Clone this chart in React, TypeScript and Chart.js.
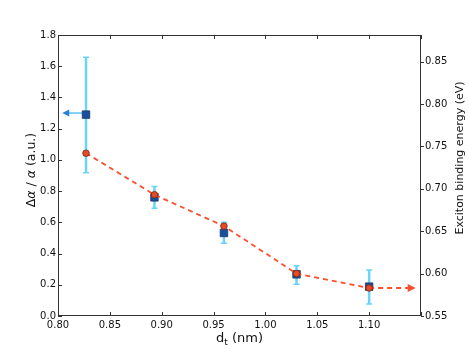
import React, { useEffect, useRef } from "react";
import { Chart, registerables } from "chart.js";

Chart.register(...registerables);

// ---- data ----
const diameters = [0.827, 0.893, 0.96, 1.03, 1.1];
const ratio = [1.29, 0.76, 0.532, 0.267, 0.188];
const ratioErrLow = [0.918, 0.69, 0.466, 0.203, 0.077];
const ratioErrHigh = [1.657, 0.829, 0.6, 0.322, 0.295];
const energy = [0.742, 0.693, 0.656, 0.6, 0.583];

const xTicks = [0.8, 0.85, 0.9, 0.95, 1.0, 1.05, 1.1, 1.15];
const xLabelMax = 1.1;
const leftTicks = [0, 0.2, 0.4, 0.6, 0.8, 1.0, 1.2, 1.4, 1.6, 1.8];
const rightTicks = [0.55, 0.6, 0.65, 0.7, 0.75, 0.8, 0.85];

const blueArrowX = [0.827, 0.806];
const blueArrowY = [1.3, 1.3];
const redArrowX = [1.1, 1.142];
const redArrowY = [0.583, 0.583];

const RED = "rgb(250,78,45)";
const ERR = "rgb(105,212,250)";
const FONT = "'DejaVu Sans', sans-serif";

const decoPlugin = {
  id: "deco",
  beforeDatasetsDraw(chart: any) {
    const ctx = chart.ctx;
    const xs = chart.scales.x;
    const ys = chart.scales.y;
    ctx.save();
    ctx.strokeStyle = ERR;
    diameters.forEach((d, i) => {
      const px = xs.getPixelForValue(d);
      const lo = ys.getPixelForValue(ratioErrLow[i]);
      const hi = ys.getPixelForValue(ratioErrHigh[i]);
      ctx.lineWidth = 2.5;
      ctx.beginPath();
      ctx.moveTo(px, lo);
      ctx.lineTo(px, hi);
      ctx.stroke();
      ctx.lineWidth = 1.5;
      ctx.beginPath();
      ctx.moveTo(px - 3, lo);
      ctx.lineTo(px + 3, lo);
      ctx.moveTo(px - 3, hi);
      ctx.lineTo(px + 3, hi);
      ctx.stroke();
    });
    ctx.restore();
  },
  afterDatasetsDraw(chart: any) {
    const ctx = chart.ctx;
    const xs = chart.scales.x;
    const ys = chart.scales.y;
    const y1 = chart.scales.y1;
    ctx.save();
    // red arrow head (pointing right)
    const rx = xs.getPixelForValue(redArrowX[1]);
    const ry = y1.getPixelForValue(redArrowY[1]);
    ctx.fillStyle = RED;
    ctx.beginPath();
    ctx.moveTo(rx + 3, ry);
    ctx.lineTo(rx - 5, ry - 4);
    ctx.lineTo(rx - 5, ry + 4);
    ctx.closePath();
    ctx.fill();
    // blue arrow head (pointing left)
    const bx = xs.getPixelForValue(blueArrowX[1]);
    const by = ys.getPixelForValue(blueArrowY[1]);
    ctx.fillStyle = "rgb(40,130,215)";
    ctx.beginPath();
    ctx.moveTo(bx - 2, by);
    ctx.lineTo(bx + 5, by - 3.5);
    ctx.lineTo(bx + 5, by + 3.5);
    ctx.closePath();
    ctx.fill();
    ctx.restore();
  },
  afterDraw(chart: any) {
    const ctx = chart.ctx;
    const a = chart.chartArea;
    const xs = chart.scales.x;
    const ys = chart.scales.y;
    const y1 = chart.scales.y1;
    ctx.save();
    ctx.strokeStyle = "#333";
    ctx.lineWidth = 1;
    ctx.strokeRect(Math.round(a.left) + 0.5, Math.round(a.top) + 0.5, Math.round(a.right - a.left) - 1, Math.round(a.bottom - a.top) - 1);
    ctx.beginPath();
    xTicks.forEach((v) => {
      const px = Math.round(xs.getPixelForValue(v)) + 0.5;
      ctx.moveTo(px, a.bottom);
      ctx.lineTo(px, a.bottom - 4);
      ctx.moveTo(px, a.top);
      ctx.lineTo(px, a.top + 4);
    });
    leftTicks.forEach((v) => {
      const py = Math.round(ys.getPixelForValue(v)) + 0.5;
      ctx.moveTo(a.left, py);
      ctx.lineTo(a.left + 4, py);
    });
    rightTicks.forEach((v) => {
      const py = Math.round(y1.getPixelForValue(v)) + 0.5;
      ctx.moveTo(a.right, py);
      ctx.lineTo(a.right + 3, py);
    });
    ctx.stroke();

    // titles
    ctx.fillStyle = "#111";
    ctx.textBaseline = "middle";
    // x title: d_t (nm)
    const cx = (a.left + a.right) / 2;
    const tyX = 339;
    ctx.font = `13px ${FONT}`;
    const wD = ctx.measureText("d").width;
    const wRest = ctx.measureText(" (nm)").width;
    ctx.font = `9px ${FONT}`;
    const wT = ctx.measureText("t").width;
    const total = wD + wT + wRest;
    let x0 = cx - total / 2;
    ctx.textAlign = "left";
    ctx.font = `13px ${FONT}`;
    ctx.fillText("d", x0, tyX);
    ctx.font = `9px ${FONT}`;
    ctx.fillText("t", x0 + wD, tyX + 4);
    ctx.font = `13px ${FONT}`;
    ctx.fillText(" (nm)", x0 + wD + wT, tyX);

    // left title: Δα / α (a.u.)
    ctx.save();
    ctx.translate(32, 170);
    ctx.rotate(-Math.PI / 2);
    const parts = [
      { t: "Δ", f: `12.5px ${FONT}` },
      { t: "α", f: `italic 12.5px ${FONT}` },
      { t: " / ", f: `12.5px ${FONT}` },
      { t: "α", f: `italic 12.5px ${FONT}` },
      { t: " (a.u.)", f: `12.5px ${FONT}` },
    ];
    let tw = 0;
    parts.forEach((p) => {
      ctx.font = p.f;
      tw += ctx.measureText(p.t).width;
    });
    let px = -tw / 2;
    parts.forEach((p) => {
      ctx.font = p.f;
      ctx.fillText(p.t, px, 0);
      px += ctx.measureText(p.t).width;
    });
    ctx.restore();

    // right title
    ctx.save();
    ctx.translate(460, 158);
    ctx.rotate(-Math.PI / 2);
    ctx.textAlign = "center";
    ctx.font = `11px ${FONT}`;
    ctx.fillText("Exciton binding energy (eV)", 0, 0);
    ctx.restore();
    ctx.restore();
  },
};

export default function App() {
  const ref = useRef<HTMLCanvasElement | null>(null);
  useEffect(() => {
    if (!ref.current) return;
    const tickFont = { family: FONT, size: 10 };
    const chart = new Chart(ref.current, {
      type: "scatter",
      data: {
        datasets: [
          {
            label: "energy",
            yAxisID: "y1",
            data: diameters.map((d, i) => ({ x: d, y: energy[i] })),
            showLine: true,
            borderColor: RED,
            borderWidth: 1.8,
            borderDash: [5, 4],
            pointRadius: 3.3,
            pointBackgroundColor: "rgb(232,72,40)",
            pointBorderColor: "rgb(110,40,20)",
            pointBorderWidth: 0.8,
          },
          {
            label: "energyArrow",
            yAxisID: "y1",
            data: redArrowX.map((x, i) => ({ x, y: redArrowY[i] })),
            showLine: true,
            borderColor: RED,
            borderWidth: 1.8,
            borderDash: [5, 4],
            pointRadius: 0,
          },
          {
            label: "ratio",
            yAxisID: "y",
            data: diameters.map((d, i) => ({ x: d, y: ratio[i] })),
            pointStyle: "rect",
            pointRadius: 5.3,
            backgroundColor: "rgb(22,80,165)",
            borderColor: "rgb(35,50,85)",
            pointBorderWidth: 0.8,
          },
          {
            label: "ratioArrow",
            yAxisID: "y",
            data: blueArrowX.map((x, i) => ({ x, y: blueArrowY[i] })),
            showLine: true,
            borderColor: "rgb(90,195,245)",
            borderWidth: 1.5,
            pointRadius: 0,
          },
        ],
      },
      options: {
        animation: false,
        responsive: false,
        layout: { padding: { top: 35, left: 0, right: 0, bottom: 0 } },
        plugins: { legend: { display: false }, tooltip: { enabled: false } },
        scales: {
          x: {
            type: "linear",
            position: "bottom",
            min: 0.8,
            max: 1.15,
            afterFit: (s: any) => {
              s.height = 36;
            },
            afterBuildTicks: (s: any) => {
              s.ticks = xTicks.map((v) => ({ value: v }));
            },
            grid: { display: false, drawTicks: false },
            border: { display: false },
            ticks: {
              font: tickFont,
              color: "#111",
              padding: 3,
              maxRotation: 0,
              autoSkip: false,
              callback: (v: any) => (v > xLabelMax + 1e-6 ? "" : Number(v).toFixed(2)),
            },
          },
          y: {
            type: "linear",
            position: "left",
            min: 0,
            max: 1.8,
            afterFit: (s: any) => {
              s.width = 58;
            },
            afterBuildTicks: (s: any) => {
              s.ticks = leftTicks.map((v) => ({ value: v }));
            },
            grid: { display: false, drawTicks: false },
            border: { display: false },
            ticks: {
              font: tickFont,
              color: "#111",
              padding: 2,
              callback: (v: any) => Number(v).toFixed(1),
            },
          },
          y1: {
            type: "linear",
            position: "right",
            min: 0.55,
            max: 0.8814,
            afterFit: (s: any) => {
              s.width = 48;
            },
            afterBuildTicks: (s: any) => {
              s.ticks = rightTicks.map((v) => ({ value: v }));
            },
            grid: { display: false, drawTicks: false },
            border: { display: false },
            ticks: {
              font: tickFont,
              color: "#111",
              padding: 4,
              callback: (v: any) => Number(v).toFixed(2),
            },
          },
        },
      },
      plugins: [decoPlugin],
    } as any);
    return () => chart.destroy();
  }, []);
  return (
    <div style={{ position: "absolute", left: 0, top: 0, width: 469, height: 352, background: "#fff" }}>
      <canvas ref={ref} width={469} height={352} />
    </div>
  );
}
